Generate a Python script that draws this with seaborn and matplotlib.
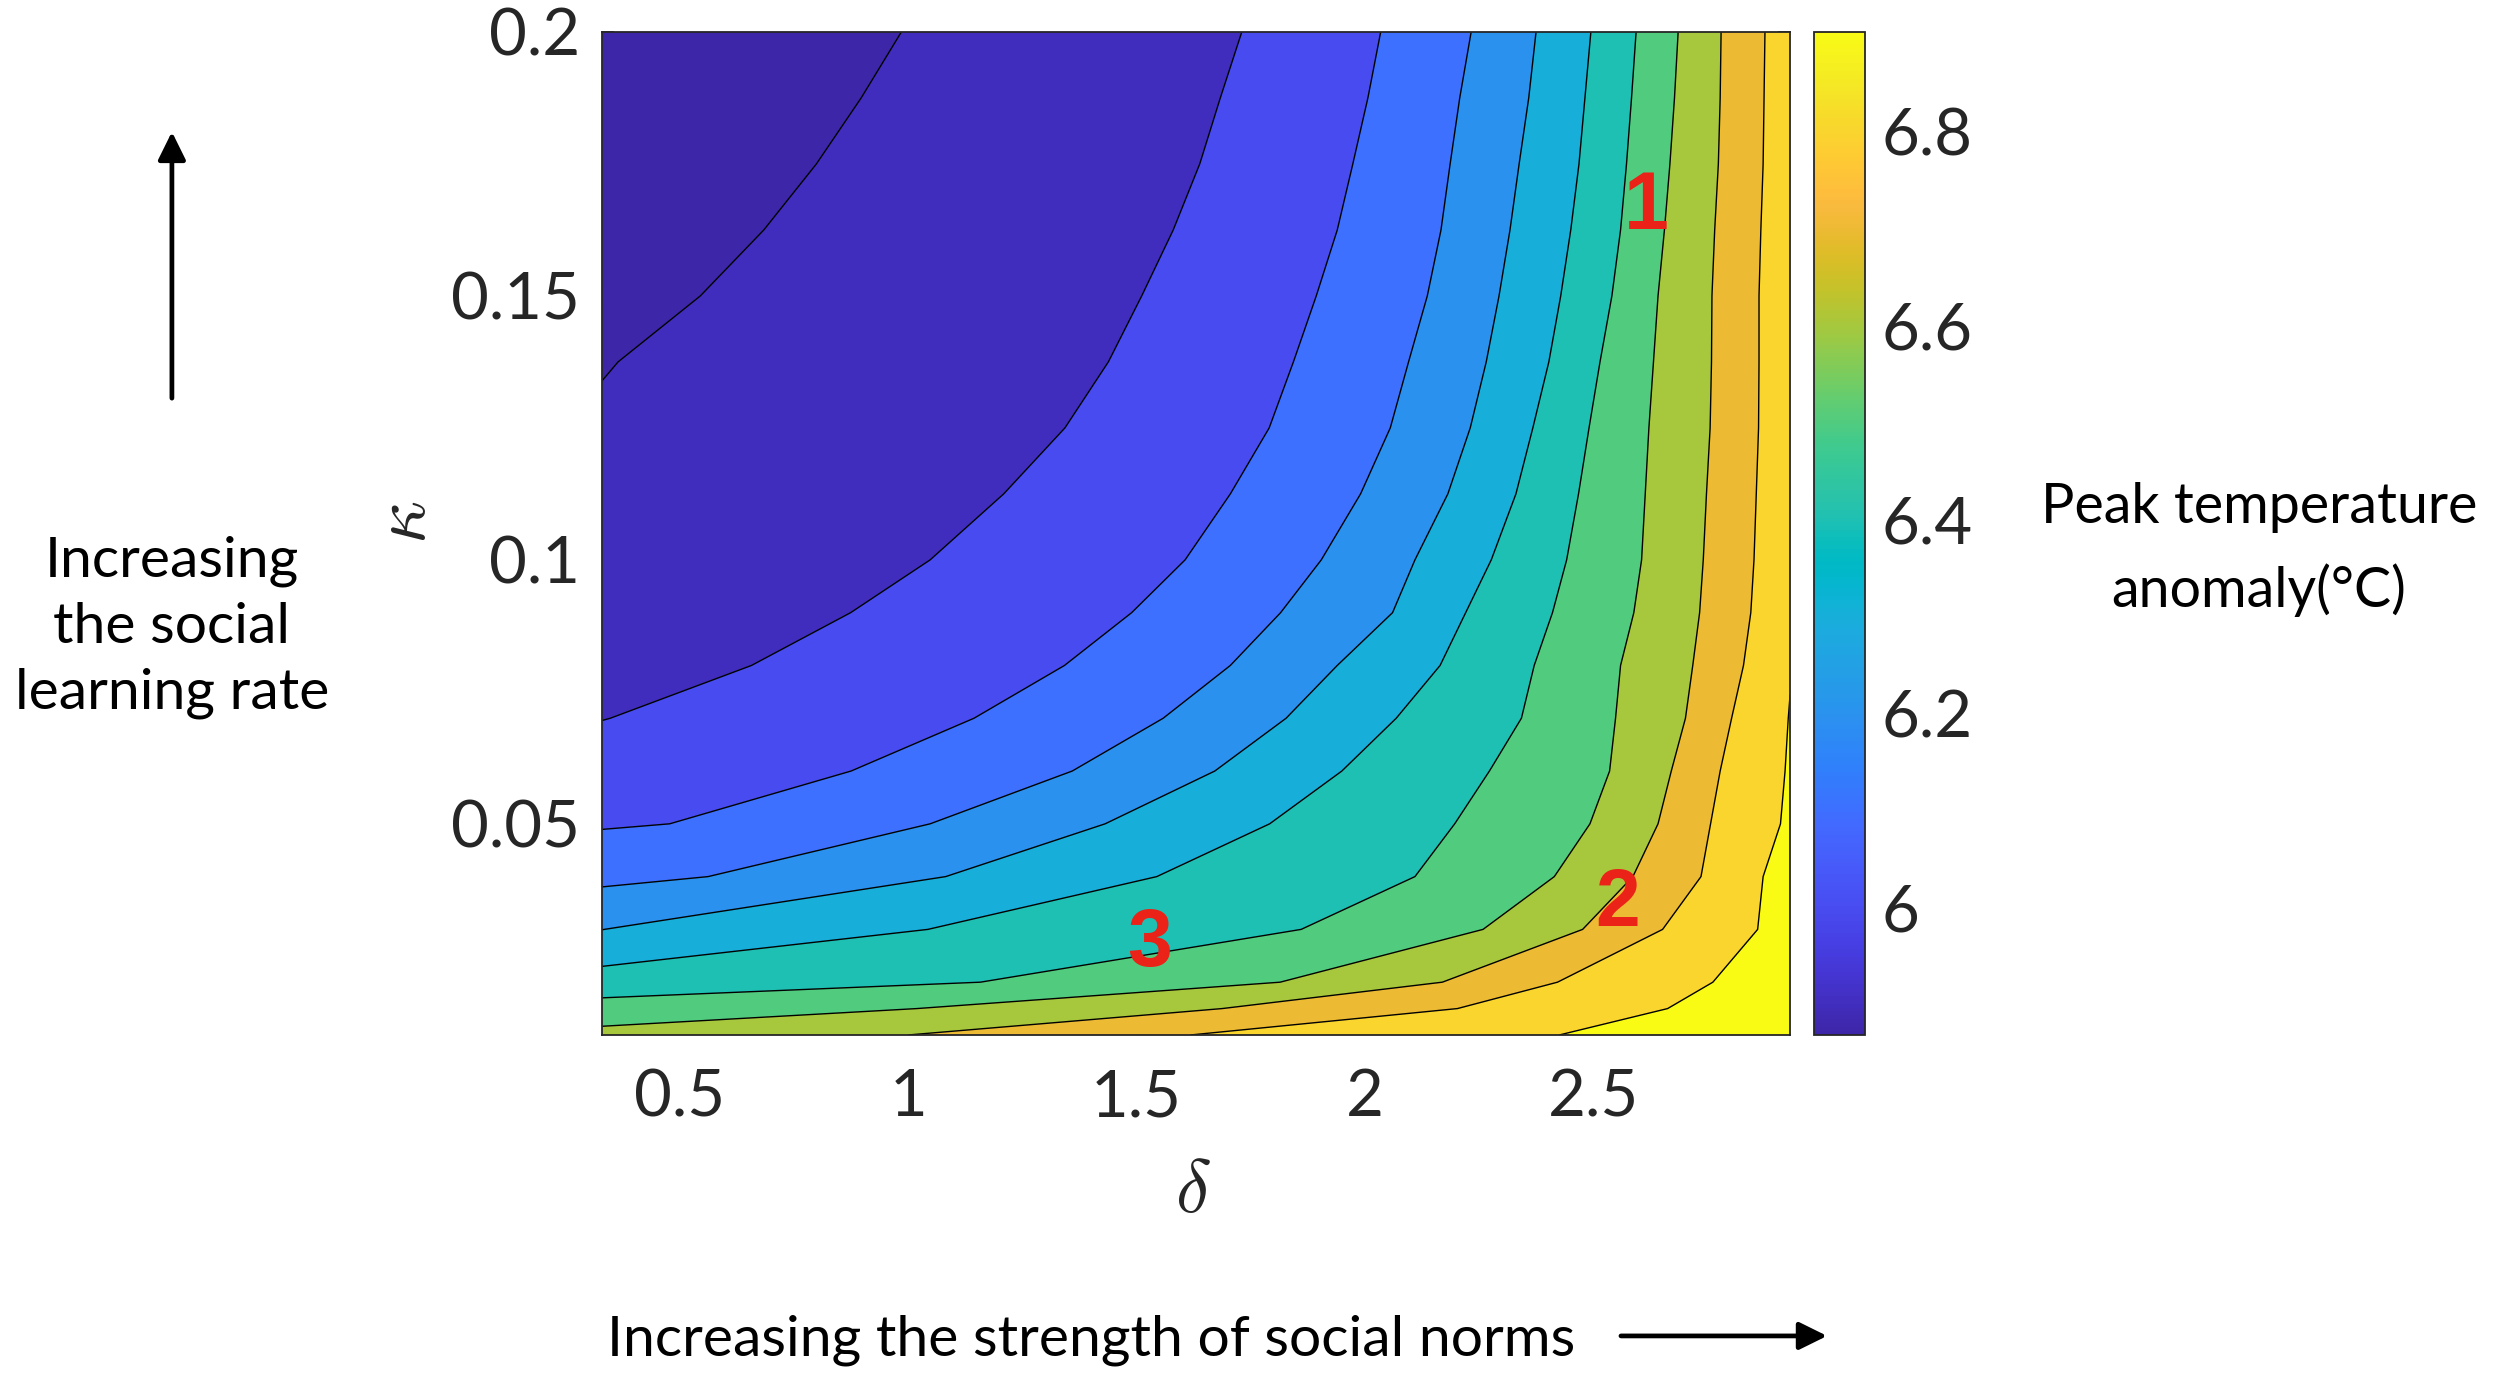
import numpy as np
import pandas as pd
import matplotlib
matplotlib.use("Agg")
import matplotlib.pyplot as plt
from matplotlib.colors import LinearSegmentedColormap, Normalize
from matplotlib.cm import ScalarMappable
from matplotlib.patches import FancyArrowPatch
import seaborn as sns

# Data
delta_range = [0.33, 2.93]
kappa = [0.01, 0.015, 0.02, 0.03, 0.04, 0.05, 0.06, 0.07, 0.08, 0.09, 0.1, 0.1125,
         0.125, 0.1375, 0.15, 0.1625, 0.175, 0.1875, 0.2]

# peak temperature anomaly at the left (delta=0.33) and right (delta=2.93) edges
temp_left = [6.630, 6.539, 6.443, 6.299, 6.176, 6.091, 6.044, 5.998, 5.984, 5.968, 5.953, 5.930,
             5.905, 5.898, 5.889, 5.883, 5.878, 5.873, 5.869]
temp_right = [6.9025, 6.9024, 6.9023, 6.9022, 6.9020, 6.9018, 6.9015, 6.9012, 6.8985, 6.877, 6.871, 6.868,
              6.865, 6.865, 6.866, 6.863, 6.860, 6.858, 6.857]

contour_levels = [5.9, 6.0, 6.1, 6.2, 6.3, 6.4, 6.5, 6.6, 6.7, 6.8, 6.9]

# delta where each level line crosses each kappa row (None = line not in that row)
N = None
level_delta = [
    # 5.9   6.0    6.1    6.2    6.3    6.4    6.5    6.6    6.7    6.8    6.9
    [N,     N,     N,     N,     N,     N,     N,     N,     1.000, 1.618, 2.425],  # 0.01
    [N,     N,     N,     N,     N,     N,     N,     1.019, 1.687, 2.202, 2.662],  # 0.015
    [N,     N,     N,     N,     N,     N,     1.158, 1.814, 2.169, 2.421, 2.761],  # 0.02
    [N,     N,     N,     N,     0.335, 1.043, 1.860, 2.258, 2.476, 2.651, 2.859],  # 0.03
    [N,     N,     N,     0.562, 1.082, 1.544, 2.109, 2.414, 2.586, 2.735, 2.871],  # 0.04
    [N,     N,     0.478, 1.048, 1.431, 1.791, 2.196, 2.492, 2.641, 2.756, 2.909],  # 0.05
    [N,     N,     0.875, 1.359, 1.671, 1.949, 2.272, 2.535, 2.670, 2.777, 2.919],  # 0.06
    [N,     0.348, 1.144, 1.558, 1.827, 2.068, 2.342, 2.548, 2.701, 2.802, 2.926],  # 0.07
    [N,     0.657, 1.342, 1.705, 1.939, 2.164, 2.370, 2.559, 2.717, 2.828, N],      # 0.08
    [N,     0.874, 1.489, 1.815, 2.060, 2.220, 2.410, 2.588, 2.732, 2.844, N],      # 0.09
    [N,     1.048, 1.606, 1.904, 2.109, 2.276, 2.441, 2.605, 2.740, 2.851, N],      # 0.1
    [N,     1.209, 1.705, 1.990, 2.181, 2.330, 2.467, 2.613, 2.747, 2.856, N],      # 0.1125
    [N,     1.343, 1.790, 2.055, 2.230, 2.367, 2.490, 2.621, 2.755, 2.861, N],      # 0.125
    [0.365, 1.438, 1.843, 2.095, 2.265, 2.402, 2.514, 2.631, 2.758, 2.862, N],      # 0.1375
    [0.545, 1.511, 1.893, 2.136, 2.293, 2.428, 2.540, 2.641, 2.759, 2.862, N],      # 0.15
    [0.684, 1.580, 1.939, 2.166, 2.317, 2.450, 2.559, 2.655, 2.765, 2.866, N],      # 0.1625
    [0.799, 1.638, 1.973, 2.186, 2.337, 2.468, 2.572, 2.667, 2.773, 2.871, N],      # 0.175
    [0.897, 1.683, 2.006, 2.207, 2.358, 2.481, 2.583, 2.677, 2.777, 2.873, N],      # 0.1875
    [0.985, 1.730, 2.034, 2.232, 2.374, 2.494, 2.593, 2.685, 2.779, 2.875, N],      # 0.2
]

x_ticks = [0.5, 1, 1.5, 2, 2.5]
x_tick_labels = ["0.5", "1", "1.5", "2", "2.5"]
y_ticks = [0.05, 0.1, 0.15, 0.2]
y_tick_labels = ["0.05", "0.1", "0.15", "0.2"]
cbar_ticks = [6, 6.2, 6.4, 6.6, 6.8]
cbar_tick_labels = ["6", "6.2", "6.4", "6.6", "6.8"]

point_labels = ["1", "2", "3"]
point_delta = [2.615, 2.553, 1.529]
point_kappa = [0.1666, 0.0346, 0.027]

# MATLAB parula (64 steps)
parula_rgb = [
    [0.2422, 0.1504, 0.6603], [0.2504, 0.1650, 0.7076], [0.2578, 0.1818, 0.7511], [0.2647, 0.1978, 0.7952],
    [0.2706, 0.2147, 0.8364], [0.2751, 0.2342, 0.8710], [0.2783, 0.2559, 0.8991], [0.2803, 0.2782, 0.9221],
    [0.2813, 0.3006, 0.9414], [0.2810, 0.3228, 0.9579], [0.2795, 0.3447, 0.9717], [0.2760, 0.3667, 0.9829],
    [0.2699, 0.3892, 0.9906], [0.2602, 0.4123, 0.9952], [0.2440, 0.4358, 0.9988], [0.2206, 0.4603, 0.9973],
    [0.1963, 0.4847, 0.9892], [0.1834, 0.5074, 0.9798], [0.1786, 0.5289, 0.9682], [0.1764, 0.5499, 0.9520],
    [0.1687, 0.5703, 0.9359], [0.1540, 0.5902, 0.9218], [0.1460, 0.6091, 0.9079], [0.1380, 0.6276, 0.8973],
    [0.1248, 0.6459, 0.8883], [0.1113, 0.6635, 0.8763], [0.0952, 0.6798, 0.8598], [0.0689, 0.6948, 0.8394],
    [0.0297, 0.7082, 0.8163], [0.0036, 0.7203, 0.7917], [0.0067, 0.7312, 0.7660], [0.0433, 0.7411, 0.7394],
    [0.0964, 0.7500, 0.7120], [0.1408, 0.7584, 0.6842], [0.1717, 0.7670, 0.6554], [0.1938, 0.7758, 0.6251],
    [0.2161, 0.7843, 0.5923], [0.2470, 0.7918, 0.5567], [0.2906, 0.7973, 0.5188], [0.3406, 0.8008, 0.4789],
    [0.3909, 0.8029, 0.4354], [0.4456, 0.8024, 0.3909], [0.5044, 0.7993, 0.3480], [0.5616, 0.7942, 0.3045],
    [0.6174, 0.7876, 0.2612], [0.6720, 0.7793, 0.2227], [0.7242, 0.7698, 0.1910], [0.7738, 0.7598, 0.1646],
    [0.8203, 0.7498, 0.1535], [0.8634, 0.7406, 0.1596], [0.9035, 0.7330, 0.1774], [0.9393, 0.7288, 0.2100],
    [0.9728, 0.7298, 0.2394], [0.9956, 0.7434, 0.2371], [0.9970, 0.7659, 0.2199], [0.9952, 0.7893, 0.2028],
    [0.9892, 0.8136, 0.1885], [0.9786, 0.8386, 0.1766], [0.9676, 0.8639, 0.1643], [0.9610, 0.8890, 0.1537],
    [0.9597, 0.9135, 0.1423], [0.9628, 0.9373, 0.1265], [0.9691, 0.9606, 0.1064], [0.9769, 0.9839, 0.0805],
]
parula = LinearSegmentedColormap.from_list("parula", parula_rgb, N=256)

sns.set_theme(style="ticks")
plt.rcParams["font.family"] = ["Lato", "DejaVu Sans"]
plt.rcParams["mathtext.fontset"] = "cm"

# build a structured grid whose columns follow the level lines of each row
x0, x1 = delta_range
grid_x, grid_z = [], []
for zl, zr, row in zip(temp_left, temp_right, level_delta):
    xs, zs = [x0], [zl]
    for lev, d in zip(contour_levels, row):
        if d is None:
            if lev < zl:
                xs.append(x0)
                zs.append(zl)
            else:
                xs.append(x1)
                zs.append(zr)
        else:
            xs.append(d)
            zs.append(lev)
    xs.append(x1)
    zs.append(zr)
    grid_x.append(xs)
    grid_z.append(zs)

X = np.array(grid_x)
Z = np.array(grid_z)
Y = np.repeat(np.array(kappa)[:, None], X.shape[1], axis=1)

zmin = min(temp_left + temp_right)
zmax = max(temp_left + temp_right)
norm = Normalize(vmin=zmin, vmax=zmax)

# MATLAB style: each band takes the colour of its lower level
band_lower = [zmin] + contour_levels
band_colors = [parula(norm(v)) for v in band_lower]
fill_levels = [zmin - 0.01] + contour_levels + [zmax + 0.01]

fig = plt.figure(figsize=(25.17, 13.73), dpi=100)
ax = fig.add_axes([0.2392, 0.2462, 0.472, 0.7305])
cax = fig.add_axes([0.7207, 0.2462, 0.0203, 0.7305])

ax.contourf(X, Y, Z, levels=fill_levels, colors=band_colors, antialiased=True)
ax.contour(X, Y, Z, levels=contour_levels, colors="black", linewidths=1.0)

ax.set_xlim(x0, x1)
ax.set_ylim(0.01, 0.2)
ax.set_xticks(x_ticks)
ax.set_xticklabels(x_tick_labels)
ax.set_yticks(y_ticks)
ax.set_yticklabels(y_tick_labels)
ax.tick_params(direction="in", length=8.6, width=1.2, top=True, right=True,
               labelsize=47, colors="#262626")
ax.tick_params(axis="x", pad=24)
ax.tick_params(axis="y", pad=16)
for s in ax.spines.values():
    s.set_linewidth(1.3)
    s.set_color("#262626")
    s.set_zorder(5)

for lab, xd, yd in zip(point_labels, point_delta, point_kappa):
    ax.text(xd, yd, lab, color="#ea2218", fontsize=58, fontweight="bold",
            family="Liberation Sans", ha="center", va="center", zorder=6)

sm = ScalarMappable(norm=norm, cmap=parula)
cb = fig.colorbar(sm, cax=cax)
cb.set_ticks(cbar_ticks)
cb.set_ticklabels(cbar_tick_labels)
cax.tick_params(direction="in", length=8.6, width=1.2, labelsize=47, pad=12, colors="#262626")
cb.outline.set_linewidth(1.3)
cb.outline.set_edgecolor("#262626")

# axis symbols
fig.text(0.474, 0.1326, r"$\delta$", fontsize=54, ha="center", va="center", color="#262626")
fig.text(0.1605, 0.6198, r"$\kappa$", fontsize=54, ha="center", va="center", rotation=90, color="#262626")

# annotations
fig.text(0.0683, 0.543, "Increasing\nthe social\nlearning rate", fontsize=41, ha="center", va="center",
         linespacing=1.36, color="black")
fig.text(0.4335, 0.024, "Increasing the strength of social norms", fontsize=41, ha="center", va="center",
         color="black")
fig.text(0.8975, 0.600, "Peak temperature\nanomaly(°C)", fontsize=40, ha="center", va="center",
         linespacing=1.69, color="black")

arrow_style = "-|>,head_length=0.85,head_width=0.42"
up = FancyArrowPatch((0.0683, 0.710), (0.0683, 0.904), transform=fig.transFigure,
                     arrowstyle=arrow_style, mutation_scale=20, linewidth=3.4,
                     color="black", shrinkA=0, shrinkB=0)
right = FancyArrowPatch((0.644, 0.027), (0.7259, 0.027), transform=fig.transFigure,
                        arrowstyle=arrow_style, mutation_scale=20, linewidth=3.4,
                        color="black", shrinkA=0, shrinkB=0)
fig.add_artist(up)
fig.add_artist(right)

fig.savefig("out.png", dpi=100)
